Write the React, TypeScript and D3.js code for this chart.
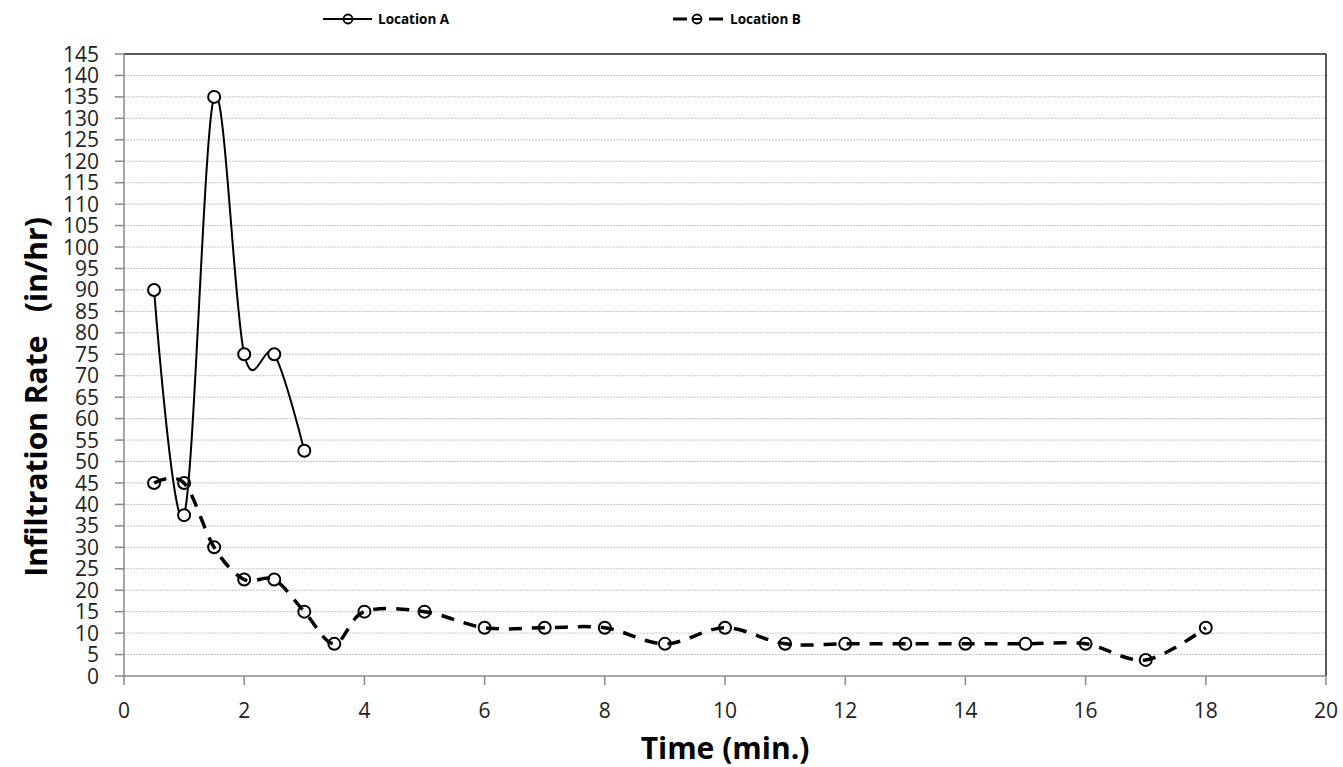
import React from "react";
import * as d3 from "d3";

const seriesAX = [0.5, 1, 1.5, 2, 2.5, 3];
const seriesAY = [90, 37.5, 135, 75, 75, 52.5];
const seriesBX = [0.5, 1, 1.5, 2, 2.5, 3, 3.5, 4, 5, 6, 7, 8, 9, 10, 11, 12, 13, 14, 15, 16, 17, 18];
const seriesBY = [45, 45, 30, 22.5, 22.5, 15, 7.5, 15, 15, 11.25, 11.25, 11.25, 7.5, 11.25, 7.5, 7.5, 7.5, 7.5, 7.5, 7.5, 3.75, 11.25];
const yTicks = d3.range(0, 146, 5);
const xTicks = d3.range(0, 21, 2);
const seriesNames = ["Location A", "Location B"];
const xTitle = "Time (min.)";
const yTitle = "Infiltration Rate   (in/hr)";

const W = 1343, H = 767;
const L = 124, R = 1326, T = 54, B = 676;
const font = "'Open Sans', Calibri, sans-serif";

export default function App() {
  const x = d3.scaleLinear().domain([0, 20]).range([L, R]);
  const y = d3.scaleLinear().domain([0, 145]).range([B, T]);
  const line = d3
    .line<[number, number]>()
    .x((d) => x(d[0]))
    .y((d) => y(d[1]))
    .curve(d3.curveCatmullRom.alpha(0));
  const a: [number, number][] = seriesAX.map((v, i) => [v, seriesAY[i]]);
  const b: [number, number][] = seriesBX.map((v, i) => [v, seriesBY[i]]);

  return (
    <svg width={W} height={H} style={{ position: "absolute", left: 0, top: 0, background: "#fff" }}>
      {yTicks.filter((t) => t > 0 && t < 145).map((t) => (
        <line key={"g" + t} x1={L} x2={R} y1={y(t)} y2={y(t)} stroke="#c8c8c8" strokeWidth={1} strokeDasharray="2 1" />
      ))}
      <line x1={L} x2={R} y1={T} y2={T} stroke="#222" strokeWidth={1.5} />
      <line x1={R} x2={R} y1={T} y2={B} stroke="#222" strokeWidth={1.5} />
      <line x1={L} x2={L} y1={T} y2={B} stroke="#8a8a8a" strokeWidth={1.5} />
      <line x1={L} x2={R} y1={B} y2={B} stroke="#8a8a8a" strokeWidth={1.5} />
      {yTicks.map((t) => (
        <g key={"y" + t}>
          <line x1={L - 9} x2={L} y1={y(t)} y2={y(t)} stroke="#8a8a8a" strokeWidth={1.5} />
          <text x={99} y={y(t)} dy="0.36em" textAnchor="end" fontFamily={font} fontSize={21} fill="#222">{t}</text>
        </g>
      ))}
      {xTicks.map((t) => (
        <g key={"x" + t}>
          <line x1={x(t)} x2={x(t)} y1={B} y2={B + 9} stroke="#8a8a8a" strokeWidth={1.5} />
          <text x={x(t)} y={718} textAnchor="middle" fontFamily={font} fontSize={21} fill="#222">{t}</text>
        </g>
      ))}
      <path d={line(b) || ""} fill="none" stroke="#000" strokeWidth={3.5} strokeDasharray="13 10" />
      {b.map((d, i) => (
        <circle key={"b" + i} cx={x(d[0])} cy={y(d[1])} r={6} fill="none" stroke="#000" strokeWidth={2} />
      ))}
      <path d={line(a) || ""} fill="none" stroke="#000" strokeWidth={2} />
      {a.map((d, i) => (
        <circle key={"a" + i} cx={x(d[0])} cy={y(d[1])} r={6} fill="#fff" stroke="#000" strokeWidth={2} />
      ))}
      <line x1={323} x2={372} y1={19} y2={19} stroke="#000" strokeWidth={2} />
      <circle cx={348} cy={19} r={4.5} fill="none" stroke="#000" strokeWidth={1.8} />
      <text x={378} y={24} fontFamily={font} fontWeight="bold" fontSize={13.5} fill="#000">{seriesNames[0]}</text>
      <line x1={673} x2={687} y1={19} y2={19} stroke="#000" strokeWidth={3} />
      <circle cx={697} cy={19} r={4.5} fill="none" stroke="#000" strokeWidth={1.8} />
      <line x1={692} x2={702} y1={19} y2={19} stroke="#000" strokeWidth={2} />
      <line x1={709} x2={723} y1={19} y2={19} stroke="#000" strokeWidth={3} />
      <text x={730} y={24} fontFamily={font} fontWeight="bold" fontSize={13.5} fill="#000">{seriesNames[1]}</text>
      <text x={725} y={759} textAnchor="middle" fontFamily={font} fontWeight="bold" fontSize={30} fill="#000">{xTitle}</text>
      <text transform={`translate(47, 397) rotate(-90)`} textAnchor="middle" fontFamily={font} fontWeight="bold" fontSize={30} fill="#000" style={{ whiteSpace: "pre" }}>{yTitle}</text>
    </svg>
  );
}
